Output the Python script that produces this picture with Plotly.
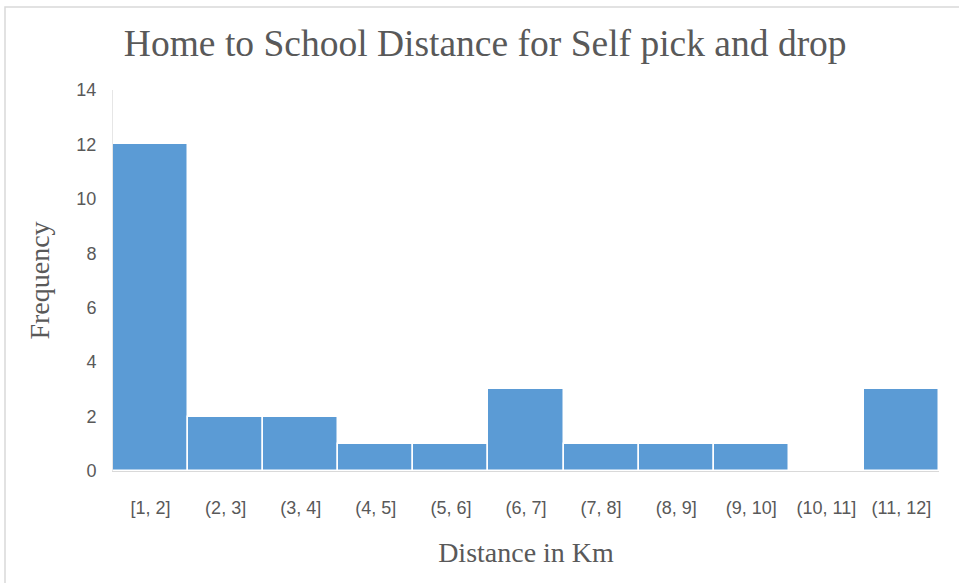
import plotly.graph_objects as go

categories = ["[1, 2]", "(2, 3]", "(3, 4]", "(4, 5]", "(5, 6]", "(6, 7]",
              "(7, 8]", "(8, 9]", "(9, 10]", "(10, 11]", "(11, 12]"]
frequency = [12, 2, 2, 1, 1, 3, 1, 1, 1, 0, 3]
y_ticks = [0, 2, 4, 6, 8, 10, 12, 14]

fig = go.Figure()
fig.add_trace(go.Bar(
    x=categories, y=frequency,
    marker=dict(color="#5B9BD5", line=dict(color="white", width=1.5)),
))

fig.update_layout(
    width=959, height=583,
    margin=dict(l=113, r=20, t=90, b=112),
    paper_bgcolor="white", plot_bgcolor="white",
    bargap=0, showlegend=False,
    title=dict(text="Home to School Distance for Self pick and drop",
               x=0.506, xanchor="center", y=0.927, yanchor="middle",
               font=dict(family="Liberation Serif", size=37.5, color="#595959")),
    xaxis=dict(
        title=dict(text="Distance in Km",
                   font=dict(family="Liberation Serif", size=28, color="#595959"),
                   standoff=25),
        showline=True, linecolor="#D9D9D9", linewidth=1,
        showgrid=False, ticks="", ticklabelstandoff=20,
        tickfont=dict(family="Liberation Sans", size=18, color="#595959"),
    ),
    yaxis=dict(
        title=dict(text="Frequency",
                   font=dict(family="Liberation Serif", size=28, color="#595959"),
                   standoff=18),
        range=[0, 14], tickvals=y_ticks,
        showline=True, linecolor="#E6E6E6", linewidth=1,
        showgrid=False, ticks="", ticklabelstandoff=12, zeroline=False,
        tickfont=dict(family="Liberation Sans", size=18, color="#595959"),
    ),
)

fig.add_shape(type="rect", xref="paper", yref="paper",
              x0=-108/826, x1=1 + 40/826, y0=-200/381, y1=1 + 83/381,
              line=dict(color="#D9D9D9", width=1.5), fillcolor="rgba(0,0,0,0)",
              layer="below")

fig.write_html("out.html")
